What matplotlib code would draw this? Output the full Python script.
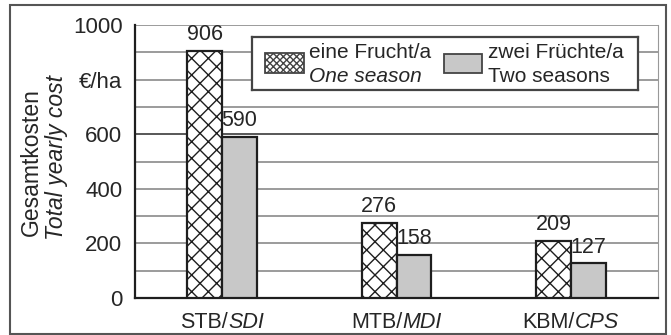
import matplotlib
matplotlib.use("Agg")
import matplotlib.pyplot as plt
from matplotlib.patches import Rectangle
import numpy as np

plt.rcParams['font.family'] = ['Liberation Sans', 'DejaVu Sans']
plt.rcParams['hatch.linewidth'] = 1.0

cats_main = ["STB/", "MTB/", "KBM/"]
cats_it = ["SDI", "MDI", "CPS"]
one_season = [906, 276, 209]
two_seasons = [590, 158, 127]
yticks = [0, 200, 400, 600, 800, 1000]
ytick_labels = ["0", "200", "400", "600", "€/ha", "1000"]

TXT = '#262626'
fig = plt.figure(figsize=(6.71, 3.35), dpi=100)
ax = fig.add_axes([135/671, 1-298/335, (658-135)/671, (298-25)/335])

x = np.arange(len(cats_main))
w = 0.2
for v in range(100, 1001, 100):
    ax.axhline(v, color='#2a2a2a' if v == 600 else '#808080', lw=1.1, zorder=0)
ax.bar(x - w/2, one_season, w, facecolor='white', edgecolor='#1e1e1e', hatch='xx', lw=1.6, zorder=3)
ax.bar(x + w/2, two_seasons, w, facecolor='#c8c8c8', edgecolor='#1e1e1e', lw=1.6, zorder=3)
for xi, v in zip(x - w/2, one_season):
    ax.annotate(str(v), xy=(xi, v), xytext=(0, 4), textcoords='offset points',
                ha='center', va='bottom', fontsize=15.5, color=TXT)
for xi, v in zip(x + w/2, two_seasons):
    ax.annotate(str(v), xy=(xi, v), xytext=(0, 4), textcoords='offset points',
                ha='center', va='bottom', fontsize=15.5, color=TXT)

ax.set_xlim(-0.5, 2.5)
ax.set_ylim(0, 1000)
ax.set_yticks(yticks)
ax.set_yticklabels(ytick_labels, fontsize=16, color=TXT)
ax.set_xticks(x)
ax.set_xticklabels([])
ax.tick_params(axis='both', length=0, pad=9)
ax.spines['top'].set_visible(False)
ax.spines['right'].set_color('#999999')
for s in ['left', 'bottom']:
    ax.spines[s].set_color('#1e1e1e')
    ax.spines[s].set_linewidth(1.6)

# category labels: upright + italic part, centred as a whole
pairs = []
for xi, a, b in zip(x, cats_main, cats_it):
    t1 = ax.annotate(a, xy=(xi, 0), xycoords=('data', 'axes fraction'), xytext=(0, -10),
                     textcoords='offset points', ha='right', va='top', fontsize=15.5, color=TXT)
    t2 = ax.annotate(b, xy=(xi, 0), xycoords=('data', 'axes fraction'), xytext=(0, -10),
                     textcoords='offset points', ha='left', va='top', fontsize=15.5, style='italic', color=TXT)
    pairs.append((t1, t2))
fig.canvas.draw()
r = fig.canvas.get_renderer()
for t1, t2 in pairs:
    w1 = t1.get_window_extent(r).width
    w2 = t2.get_window_extent(r).width
    shift = (w1 - w2) / 2 * 72 / fig.dpi
    t1.set_position((shift, -10))
    t2.set_position((shift, -10))

fig.text(31/671, 1-162/335, "Gesamtkosten", rotation=90, ha='center', va='center', fontsize=16.5, color=TXT)
fig.text(56/671, 1-158/335, "Total yearly cost", rotation=90, ha='center', va='center', fontsize=16.5, style='italic', color=TXT)

# legend
lg_ax = fig.add_axes([252/671, 1-90/335, (638-252)/671, (90-37)/335])
lg_ax.set_xlim(0, 386); lg_ax.set_ylim(53, 0)
lg_ax.set_xticks([]); lg_ax.set_yticks([])
lg_ax.set_facecolor('white')
for s in lg_ax.spines.values():
    s.set_color('#444444'); s.set_linewidth(1.6)
lg_ax.add_patch(Rectangle((13, 16), 39, 20, facecolor='white', edgecolor='#444444', hatch='xxxxx', lw=1.3))
lg_ax.add_patch(Rectangle((192, 17), 38, 19, facecolor='#c8c8c8', edgecolor='#444444', lw=1.3))
lg_ax.text(57, 16, "eine Frucht/a", fontsize=15, va='center', color=TXT)
lg_ax.text(57, 40, "One season", fontsize=15, va='center', style='italic', color=TXT)
lg_ax.text(236, 16, "zwei Früchte/a", fontsize=15, va='center', color=TXT)
lg_ax.text(236, 40, "Two seasons", fontsize=15, va='center', color=TXT)

fig.patches.append(Rectangle((10/671, 1/335), (666-10)/671, (330-1)/335, transform=fig.transFigure,
                             fill=False, edgecolor='#555555', lw=1.5))
fig.savefig("out.png", dpi=100)
